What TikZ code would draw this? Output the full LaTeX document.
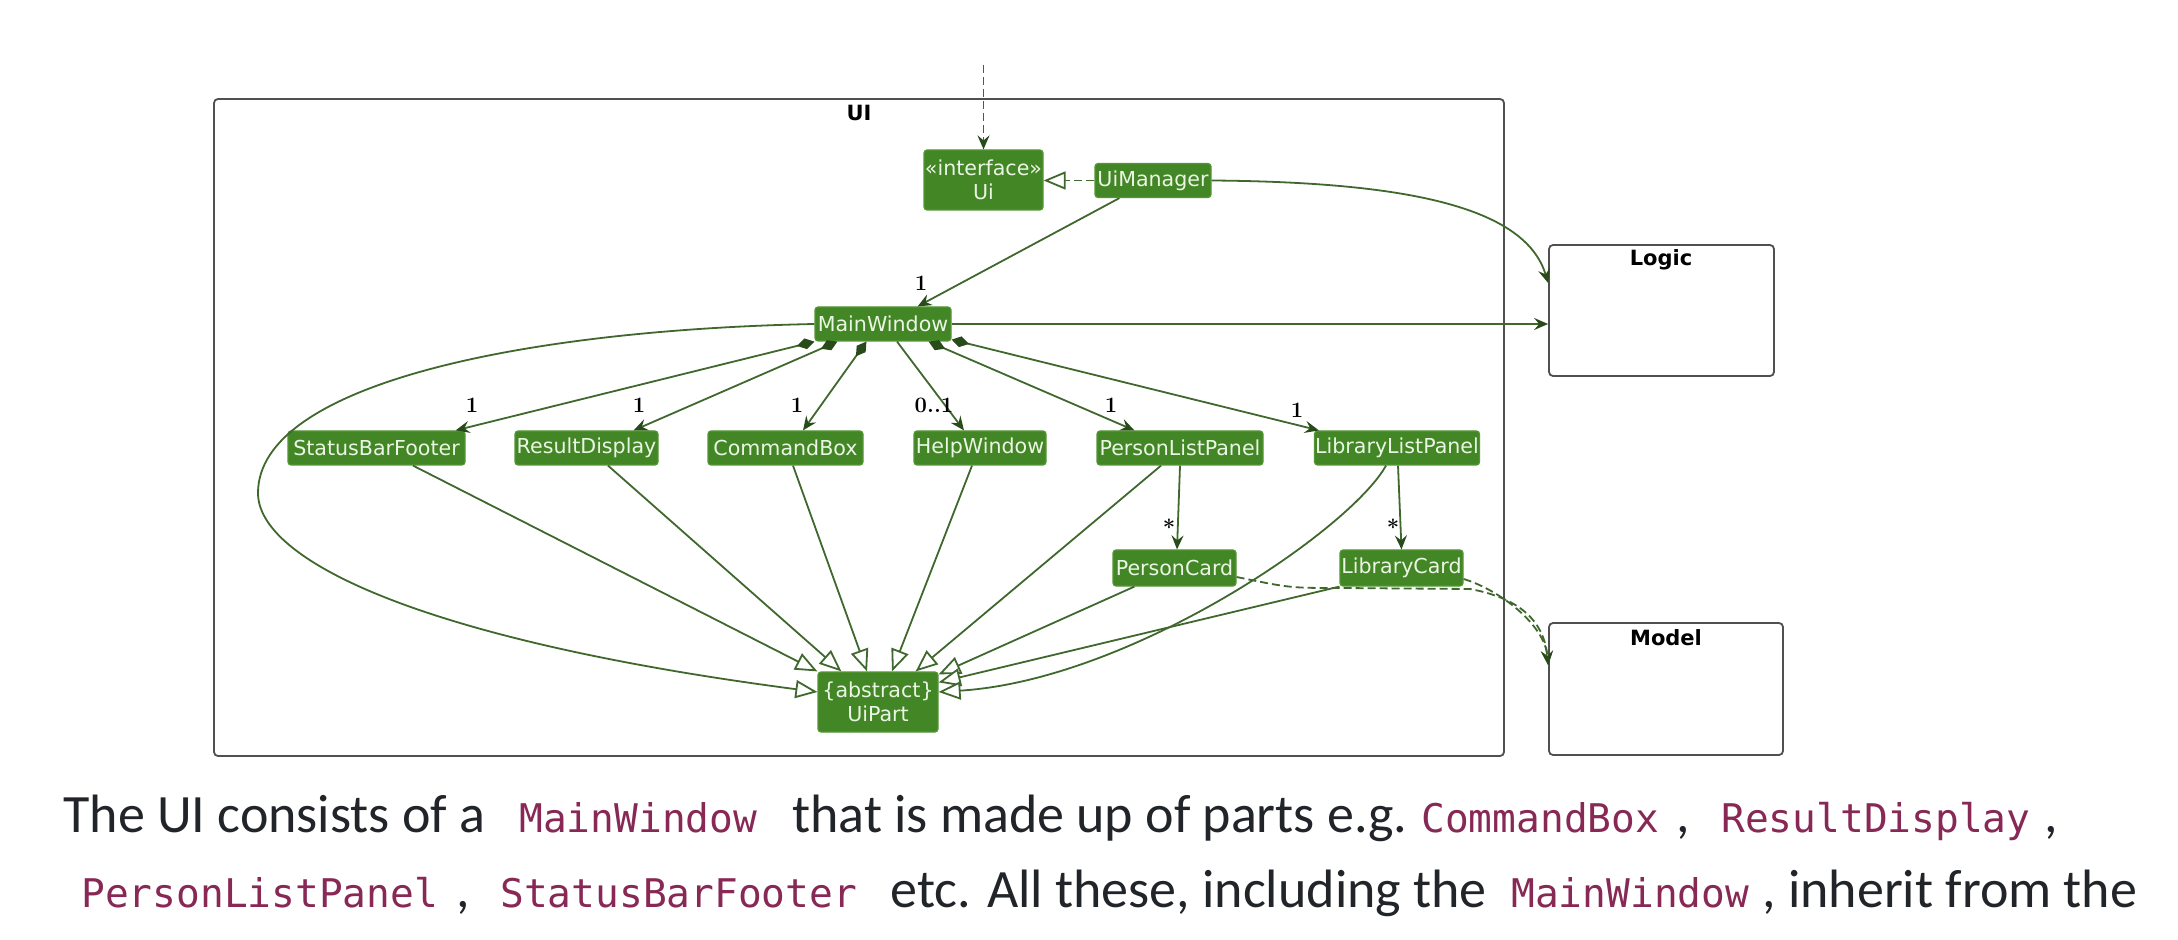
\documentclass[tikz,border=0pt]{standalone}
\usepackage{fontspec}
\usetikzlibrary{arrows.meta,calc}
\newfontfamily\umlfont{DejaVu Sans}
\newfontfamily\capfont{Carlito}
\newfontfamily\codefont{DejaVu Sans Mono}
\definecolor{nodefill}{RGB}{67,134,38}
\definecolor{nodetext}{RGB}{235,245,228}
\definecolor{nodeborder}{RGB}{84,150,54}
\definecolor{edgecol}{RGB}{64,104,46}
\definecolor{headcol}{RGB}{40,75,25}
\definecolor{pkgcol}{RGB}{80,80,80}
\definecolor{captext}{RGB}{33,37,41}
\definecolor{codecol}{RGB}{135,40,85}
\tikzset{
  cls/.style={draw=nodeborder, fill=nodefill, text=nodetext, rounded corners=1.5pt, inner sep=0pt,
    font=\umlfont\fontsize{10.3}{12}\selectfont, align=center, line width=0.6pt, minimum height=17pt},
  pkg/.style={draw=pkgcol, line width=0.9pt, rounded corners=2pt, inner sep=0pt},
  pkglabel/.style={font=\umlfont\bfseries\fontsize{10.5}{12}\selectfont, text=black, inner sep=0pt},
  mult/.style={font=\bfseries\fontsize{11}{13}\selectfont, inner sep=0pt, text=black},
  conn/.style={draw=edgecol, line width=0.9pt},
  assoc/.style={conn, -{Stealth[length=7pt,width=6pt,inset=2.5pt,color=headcol]}},
  comp/.style={conn, {Diamond[length=9pt,width=5.5pt,color=headcol]}-{Stealth[length=7pt,width=6pt,inset=2.5pt,color=headcol]}},
  gen/.style={conn, -{Triangle[open,length=11pt,width=9pt,fill=white]}},
  dep/.style={conn, dash pattern=on 4pt off 2pt, -{Stealth[length=7pt,width=6pt,inset=2.5pt,color=headcol]}},
  captxt/.style={font=\capfont\fontsize{27}{32}\selectfont, text=captext, inner sep=0pt, anchor=base west},
  codetxt/.style={font=\codefont\fontsize{19.75}{24}\selectfont, text=codecol, inner sep=0pt, anchor=base west},
}
\begin{document}
\begin{tikzpicture}[x=0.5pt,y=-0.5pt]
\fill[white] (0,0) rectangle (2178,940);
\useasboundingbox (0,0) rectangle (2178,940);

% packages
\node[pkg, minimum width=645pt, minimum height=328.5pt] (uiframe) at (859,427.5) {};
\node[pkglabel] (uilabel) at (859,113) {UI};
\node[pkg, minimum width=112.5pt, minimum height=65.5pt] (logic) at (1661.5,310.5) {};
\node[pkglabel] (logiclabel) at (1661,260) {Logic};
\node[pkg, minimum width=117pt, minimum height=66pt] (model) at (1666,689) {};
\node[pkglabel] (modellabel) at (1666,638) {Model};

% classes
\node[cls, minimum width=59.5pt, minimum height=30pt] (ui) at (983.5,180) {«interface»\\Ui};
\node[cls, minimum width=58pt] (um) at (1153,180.5) {UiManager};
\node[cls, minimum width=68pt] (mw) at (883,324) {MainWindow};
\node[cls, minimum width=88.5pt] (sbf) at (376.5,448) {StatusBarFooter};
\node[cls, minimum width=71.5pt] (rd) at (586.5,448) {ResultDisplay};
\node[cls, minimum width=77.5pt] (cb) at (785.5,448) {CommandBox};
\node[cls, minimum width=66pt] (hw) at (980,448) {HelpWindow};
\node[cls, minimum width=83pt] (plp) at (1180,448) {PersonListPanel};
\node[cls, minimum width=82.5pt] (llp) at (1397,448) {LibraryListPanel};
\node[cls, minimum width=61.5pt, minimum height=18pt] (pc) at (1174.5,568) {PersonCard};
\node[cls, minimum width=61.5pt, minimum height=18pt] (lc) at (1401.5,568) {LibraryCard};
\node[cls, minimum width=60pt, minimum height=30pt] (up) at (878,702) {\{abstract\}\\UiPart};

% external dependency into Ui
\coordinate (ext) at (983.5,65);
\draw[dep] (ext) -- (ui.north);

% realization
\draw[conn, dash pattern=on 4pt off 2pt, -{Triangle[open,length=11pt,width=9pt,fill=white]}] (um.west) -- (um.west -| ui.east);

% UiManager -> MainWindow
\draw[assoc] ([xshift=12.5pt]um.south west) -- ([xshift=-17pt]mw.north east);
\node[mult] (m0) at (921,283) {1};

% UiManager -> Logic
\draw[assoc] (um.east) .. controls (1400,182) and (1525,205) .. ([yshift=13.75pt]logic.west);
% MainWindow -> Logic
\draw[assoc] (mw.east) -- (mw.east -| logic.west);

% compositions
\draw[comp] (mw.south west) -- ([xshift=-5pt]sbf.north east);
\draw[comp] ([xshift=11.5pt]mw.south west) -- ([xshift=-12.5pt]rd.north east);
\draw[comp] ([xshift=26pt]mw.south west) -- ([xshift=8.75pt]cb.north);
\draw[assoc] ([xshift=7pt]mw.south) -- ([xshift=-8pt]hw.north);
\draw[comp] ([xshift=-11.5pt]mw.south east) -- ([xshift=19pt]plp.north west);
\draw[comp] ([yshift=1pt]mw.south east) -- ([xshift=2.5pt]llp.north west);
\node[mult] (m1) at (472,405) {1};
\node[mult] (m2) at (639,405) {1};
\node[mult] (m3) at (797,405) {1};
\node[mult] (m4) at (934,405) {0..1};
\node[mult] (m5) at (1111,405) {1};
\node[mult] (m6) at (1297,410) {1};

% lists -> cards
\draw[assoc] (plp.south) -- ([xshift=1.25pt]pc.north);
\draw[assoc] ([xshift=0.5pt]llp.south) -- (lc.north);
\node[mult] (m7) at (1169,527) {*};
\node[mult] (m8) at (1393,527) {*};

% generalizations
\draw[gen] ([xshift=18.25pt]sbf.south) -- (up.north west);
\draw[gen] ([xshift=10.75pt]rd.south) -- ([xshift=12pt]up.north west);
\draw[gen] ([xshift=3.75pt]cb.south) -- ([xshift=-5.5pt]up.north);
\draw[gen] ([xshift=-4pt]hw.south) -- ([xshift=7pt]up.north);
\draw[gen] ([xshift=-9.5pt]plp.south) -- ([xshift=-11.5pt]up.north east);
\draw[gen] ([xshift=11pt]pc.south west) -- ([yshift=-1.5pt]up.north east);
\draw[gen] (lc.south west) -- ([yshift=-5.5pt]up.north east);
\draw[gen] ([xshift=-5.5pt]llp.south) .. controls (1350,530) and (1130,680) .. ([yshift=5pt]up.east);
\draw[gen] (mw.west) .. controls (520,330) and (258,385) .. (258,493)
                     .. controls (258,560) and (420,640) .. ([yshift=5pt]up.west);

% dependencies to Model
\draw[dep] ([yshift=-4.5pt]pc.east) .. controls (1290,588) .. (1340,588) -- (1470,589)
           .. controls (1530,600) and (1545,630) .. ([yshift=12pt]model.west);
\draw[dep] ([yshift=-5.5pt]lc.east) .. controls (1500,590) and (1545,625) .. ([yshift=12pt]model.west);

% caption
\node[captxt] (t1) at (63,832) {The UI consists of a};
\node[codetxt] (c1) at (519,832) {MainWindow};
\node[captxt] (t2) at (792,832) {that is made up of parts e.g.};
\node[codetxt] (c2) at (1421,832) {CommandBox};
\node[captxt] (t3) at (1676,832) {,};
\node[codetxt] (c3) at (1721,832) {ResultDisplay};
\node[captxt] (t4) at (2044,832) {,};
\node[codetxt] (c4) at (81,907) {PersonListPanel};
\node[captxt] (t5) at (456,907) {,};
\node[codetxt] (c5) at (500,907) {StatusBarFooter};
\node[captxt] (t6) at (890,907) {etc. All these, including the};
\node[codetxt] (c6) at (1511,907) {MainWindow};
\node[captxt] (t7) at (1762,907) {, inherit from the};
\end{tikzpicture}
\end{document}
